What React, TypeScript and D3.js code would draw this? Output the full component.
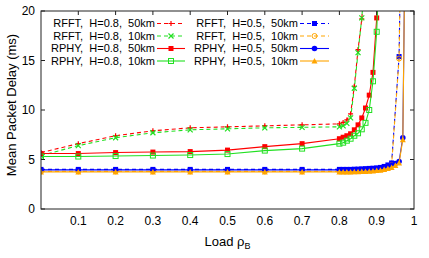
import * as d3 from "d3";

// x values
const xCoarse = [0, 0.1, 0.2, 0.3, 0.4, 0.5, 0.6, 0.7];
const xFftH8 = [...xCoarse, 0.8, 0.81, 0.82, 0.83, 0.84, 0.85, 0.86, 0.87];
const xPhyH8 = [...xCoarse, 0.8, 0.81, 0.82, 0.83, 0.84, 0.85, 0.86, 0.87, 0.88, 0.89, 0.9, 0.91];
const xFftH5 = [...xCoarse, 0.8, 0.81, 0.82, 0.83, 0.84, 0.85, 0.86, 0.87, 0.88, 0.89, 0.9, 0.91, 0.92, 0.93, 0.94, 0.96, 0.97];
const xPhyH5 = [...xCoarse, 0.8, 0.81, 0.82, 0.83, 0.84, 0.85, 0.86, 0.87, 0.88, 0.89, 0.9, 0.91, 0.92, 0.93, 0.94, 0.95, 0.96, 0.97, 0.98];

// delay values (ms)
const fftH8km50 = [5.7, 6.6, 7.4, 7.9, 8.2, 8.3, 8.4, 8.5, 8.6, 8.75, 9.0, 9.6, 12.4, 16.1, 19.2, 24];
const fftH8km10 = [5.4, 6.4, 7.2, 7.7, 8.0, 8.1, 8.2, 8.25, 8.3, 8.4, 8.65, 9.2, 12.2, 15.8, 19.3, 24];
const phyH8km50 = [5.6, 5.6, 5.7, 5.75, 5.8, 5.95, 6.3, 6.6, 7.1, 7.25, 7.4, 7.6, 8.0, 8.5, 9.2, 10.2, 11.5, 13.8, 19.3, 35];
const phyH8km10 = [5.3, 5.3, 5.35, 5.4, 5.45, 5.55, 5.9, 6.1, 6.6, 6.7, 6.9, 7.1, 7.4, 7.65, 8.05, 8.7, 10.0, 12.9, 17.9, 28];
const fftH5km50 = [4.0, 4.0, 4.0, 4.0, 4.0, 4.0, 4.0, 4.0, 4.0, 4.0, 4.0, 4.0, 4.02, 4.03, 4.05, 4.07, 4.1, 4.12, 4.15, 4.2, 4.3, 4.45, 4.65, 15.4, 40];
const fftH5km10 = [3.8, 3.8, 3.8, 3.8, 3.8, 3.8, 3.8, 3.8, 3.8, 3.8, 3.8, 3.8, 3.82, 3.83, 3.85, 3.87, 3.9, 3.92, 3.95, 4.0, 4.1, 4.25, 4.45, 15.2, 40];
const phyH5km50 = [3.95, 3.95, 3.95, 3.95, 3.95, 3.95, 3.95, 3.95, 3.95, 3.95, 3.95, 3.95, 3.96, 3.97, 3.98, 4.0, 4.02, 4.05, 4.08, 4.12, 4.2, 4.3, 4.45, 4.6, 4.8, 7.2, 40];
const phyH5km10 = [3.75, 3.75, 3.75, 3.75, 3.75, 3.75, 3.75, 3.75, 3.75, 3.75, 3.75, 3.75, 3.76, 3.77, 3.78, 3.8, 3.82, 3.85, 3.88, 3.92, 4.0, 4.1, 4.2, 4.4, 4.65, 7.0, 40];

const xTicks = [0.1, 0.2, 0.3, 0.4, 0.5, 0.6, 0.7, 0.8, 0.9, 1];
const yTicks = [0, 5, 10, 15, 20];

type Marker = "plus" | "cross" | "square" | "openSquare" | "openCircle" | "circle" | "triangle";

interface Series {
  label: string;
  xs: number[];
  ys: number[];
  color: string;
  dashed: boolean;
  marker: Marker;
}

const RED = "#ff0000";
const GREEN = "#22e022";
const BLUE = "#0000ff";
const ORANGE = "#ffa500";

const series: Series[] = [
  { label: "RFFT,  H=0.8,  50km", xs: xFftH8, ys: fftH8km50, color: RED, dashed: true, marker: "plus" },
  { label: "RFFT,  H=0.8,  10km", xs: xFftH8, ys: fftH8km10, color: GREEN, dashed: true, marker: "cross" },
  { label: "RPHY,  H=0.8,  50km", xs: xPhyH8, ys: phyH8km50, color: RED, dashed: false, marker: "square" },
  { label: "RPHY,  H=0.8,  10km", xs: xPhyH8, ys: phyH8km10, color: GREEN, dashed: false, marker: "openSquare" },
  { label: "RFFT,  H=0.5,  50km", xs: xFftH5, ys: fftH5km50, color: BLUE, dashed: true, marker: "square" },
  { label: "RFFT,  H=0.5,  10km", xs: xFftH5, ys: fftH5km10, color: ORANGE, dashed: true, marker: "openCircle" },
  { label: "RPHY,  H=0.5,  50km", xs: xPhyH5, ys: phyH5km50, color: BLUE, dashed: false, marker: "circle" },
  { label: "RPHY,  H=0.5,  10km", xs: xPhyH5, ys: phyH5km10, color: ORANGE, dashed: false, marker: "triangle" },
];

const W = 429;
const H = 258;
const margin = { top: 11, right: 15, bottom: 49, left: 41 };
const FONT = "'Liberation Sans', Arial, sans-serif";

function MarkerShape({ x, y, m, color }: { x: number; y: number; m: Marker; color: string }) {
  const r = 2.5;
  switch (m) {
    case "plus":
      return <path d={`M${x - r},${y}H${x + r}M${x},${y - r}V${y + r}`} stroke={color} strokeWidth={1.2} />;
    case "cross":
      return <path d={`M${x - r},${y - r}L${x + r},${y + r}M${x - r},${y + r}L${x + r},${y - r}`} stroke={color} strokeWidth={1.2} />;
    case "square":
      return <rect x={x - r} y={y - r} width={2 * r} height={2 * r} fill={color} />;
    case "openSquare":
      return <rect x={x - r} y={y - r} width={2 * r} height={2 * r} fill="none" stroke={color} strokeWidth={1} />;
    case "openCircle":
      return <circle cx={x} cy={y} r={r} fill="none" stroke={color} strokeWidth={1} />;
    case "circle":
      return <circle cx={x} cy={y} r={r + 0.3} fill={color} />;
    case "triangle":
      return <path d={`M${x},${y - r - 0.5}L${x + r + 0.5},${y + r}L${x - r - 0.5},${y + r}Z`} fill={color} />;
  }
}

export default function App() {
  const iw = W - margin.left - margin.right;
  const ih = H - margin.top - margin.bottom;
  const x = d3.scaleLinear().domain([0, 1]).range([margin.left, margin.left + iw]);
  const y = d3.scaleLinear().domain([0, 20]).range([margin.top + ih, margin.top]);
  const line = d3
    .line<[number, number]>()
    .x((d) => x(d[0]))
    .y((d) => y(d[1]));

  const legendRows = [23.5, 36, 48.5, 61];
  const legendCols = [
    { textEnd: 155, lineStart: 157, lineEnd: 185 },
    { textEnd: 298, lineStart: 300, lineEnd: 329 },
  ];

  return (
    <svg width={W} height={H} style={{ position: "absolute", left: 0, top: 0, background: "#fff" }} fontFamily={FONT}>
      <defs>
        <clipPath id="plot">
          <rect x={margin.left} y={margin.top} width={iw} height={ih} />
        </clipPath>
      </defs>

      {/* series */}
      <g clipPath="url(#plot)">
        {series.map((s, i) => {
          const pts = s.xs.map((xv, j) => [xv, s.ys[j]] as [number, number]);
          return (
            <g key={i}>
              <path
                d={line(pts) ?? ""}
                fill="none"
                stroke={s.color}
                strokeWidth={1.1}
                strokeDasharray={s.dashed ? "4,3" : undefined}
              />
              {pts.map((p, j) => (
                <MarkerShape key={j} x={x(p[0])} y={y(p[1])} m={s.marker} color={s.color} />
              ))}
            </g>
          );
        })}
      </g>

      {/* legend */}
      {series.map((s, i) => {
        const col = legendCols[Math.floor(i / 4)];
        const ry = legendRows[i % 4];
        return (
          <g key={i}>
            <text x={col.textEnd} y={ry} dy="0.35em" textAnchor="end" fontSize={11} fill="#000" style={{ whiteSpace: "pre" }}>
              {s.label}
            </text>
            <line
              x1={col.lineStart}
              x2={col.lineEnd}
              y1={ry}
              y2={ry}
              stroke={s.color}
              strokeWidth={1.1}
              strokeDasharray={s.dashed ? "4,3" : undefined}
            />
            <MarkerShape x={(col.lineStart + col.lineEnd) / 2} y={ry} m={s.marker} color={s.color} />
          </g>
        );
      })}

      {/* frame */}
      <rect x={margin.left} y={margin.top} width={iw} height={ih} fill="none" stroke="#222" strokeWidth={1} />

      {/* y ticks */}
      {yTicks.map((t) => (
        <g key={t}>
          <line x1={margin.left} x2={margin.left + 4} y1={y(t)} y2={y(t)} stroke="#222" />
          <line x1={margin.left + iw - 4} x2={margin.left + iw} y1={y(t)} y2={y(t)} stroke="#222" />
          <text x={margin.left - 6} y={y(t)} dy="0.35em" textAnchor="end" fontSize={12} fill="#000">
            {t}
          </text>
        </g>
      ))}

      {/* x ticks */}
      {xTicks.map((t) => (
        <g key={t}>
          <line x1={x(t)} x2={x(t)} y1={margin.top} y2={margin.top + 4} stroke="#222" />
          <text x={x(t)} y={margin.top + ih + 16} textAnchor="middle" fontSize={12} fill="#000">
            {t}
          </text>
        </g>
      ))}

      {/* axis labels */}
      <text
        transform={`translate(16,${margin.top + ih / 2 - 5}) rotate(-90)`}
        textAnchor="middle"
        fontSize={13}
        fill="#000"
      >
        Mean Packet Delay (ms)
      </text>
      <text x={x(0.5)} y={margin.top + ih + 37} textAnchor="middle" fontSize={13} fill="#000">
        Load ρ<tspan fontSize={9} dy={3}>B</tspan>
      </text>
    </svg>
  );
}
